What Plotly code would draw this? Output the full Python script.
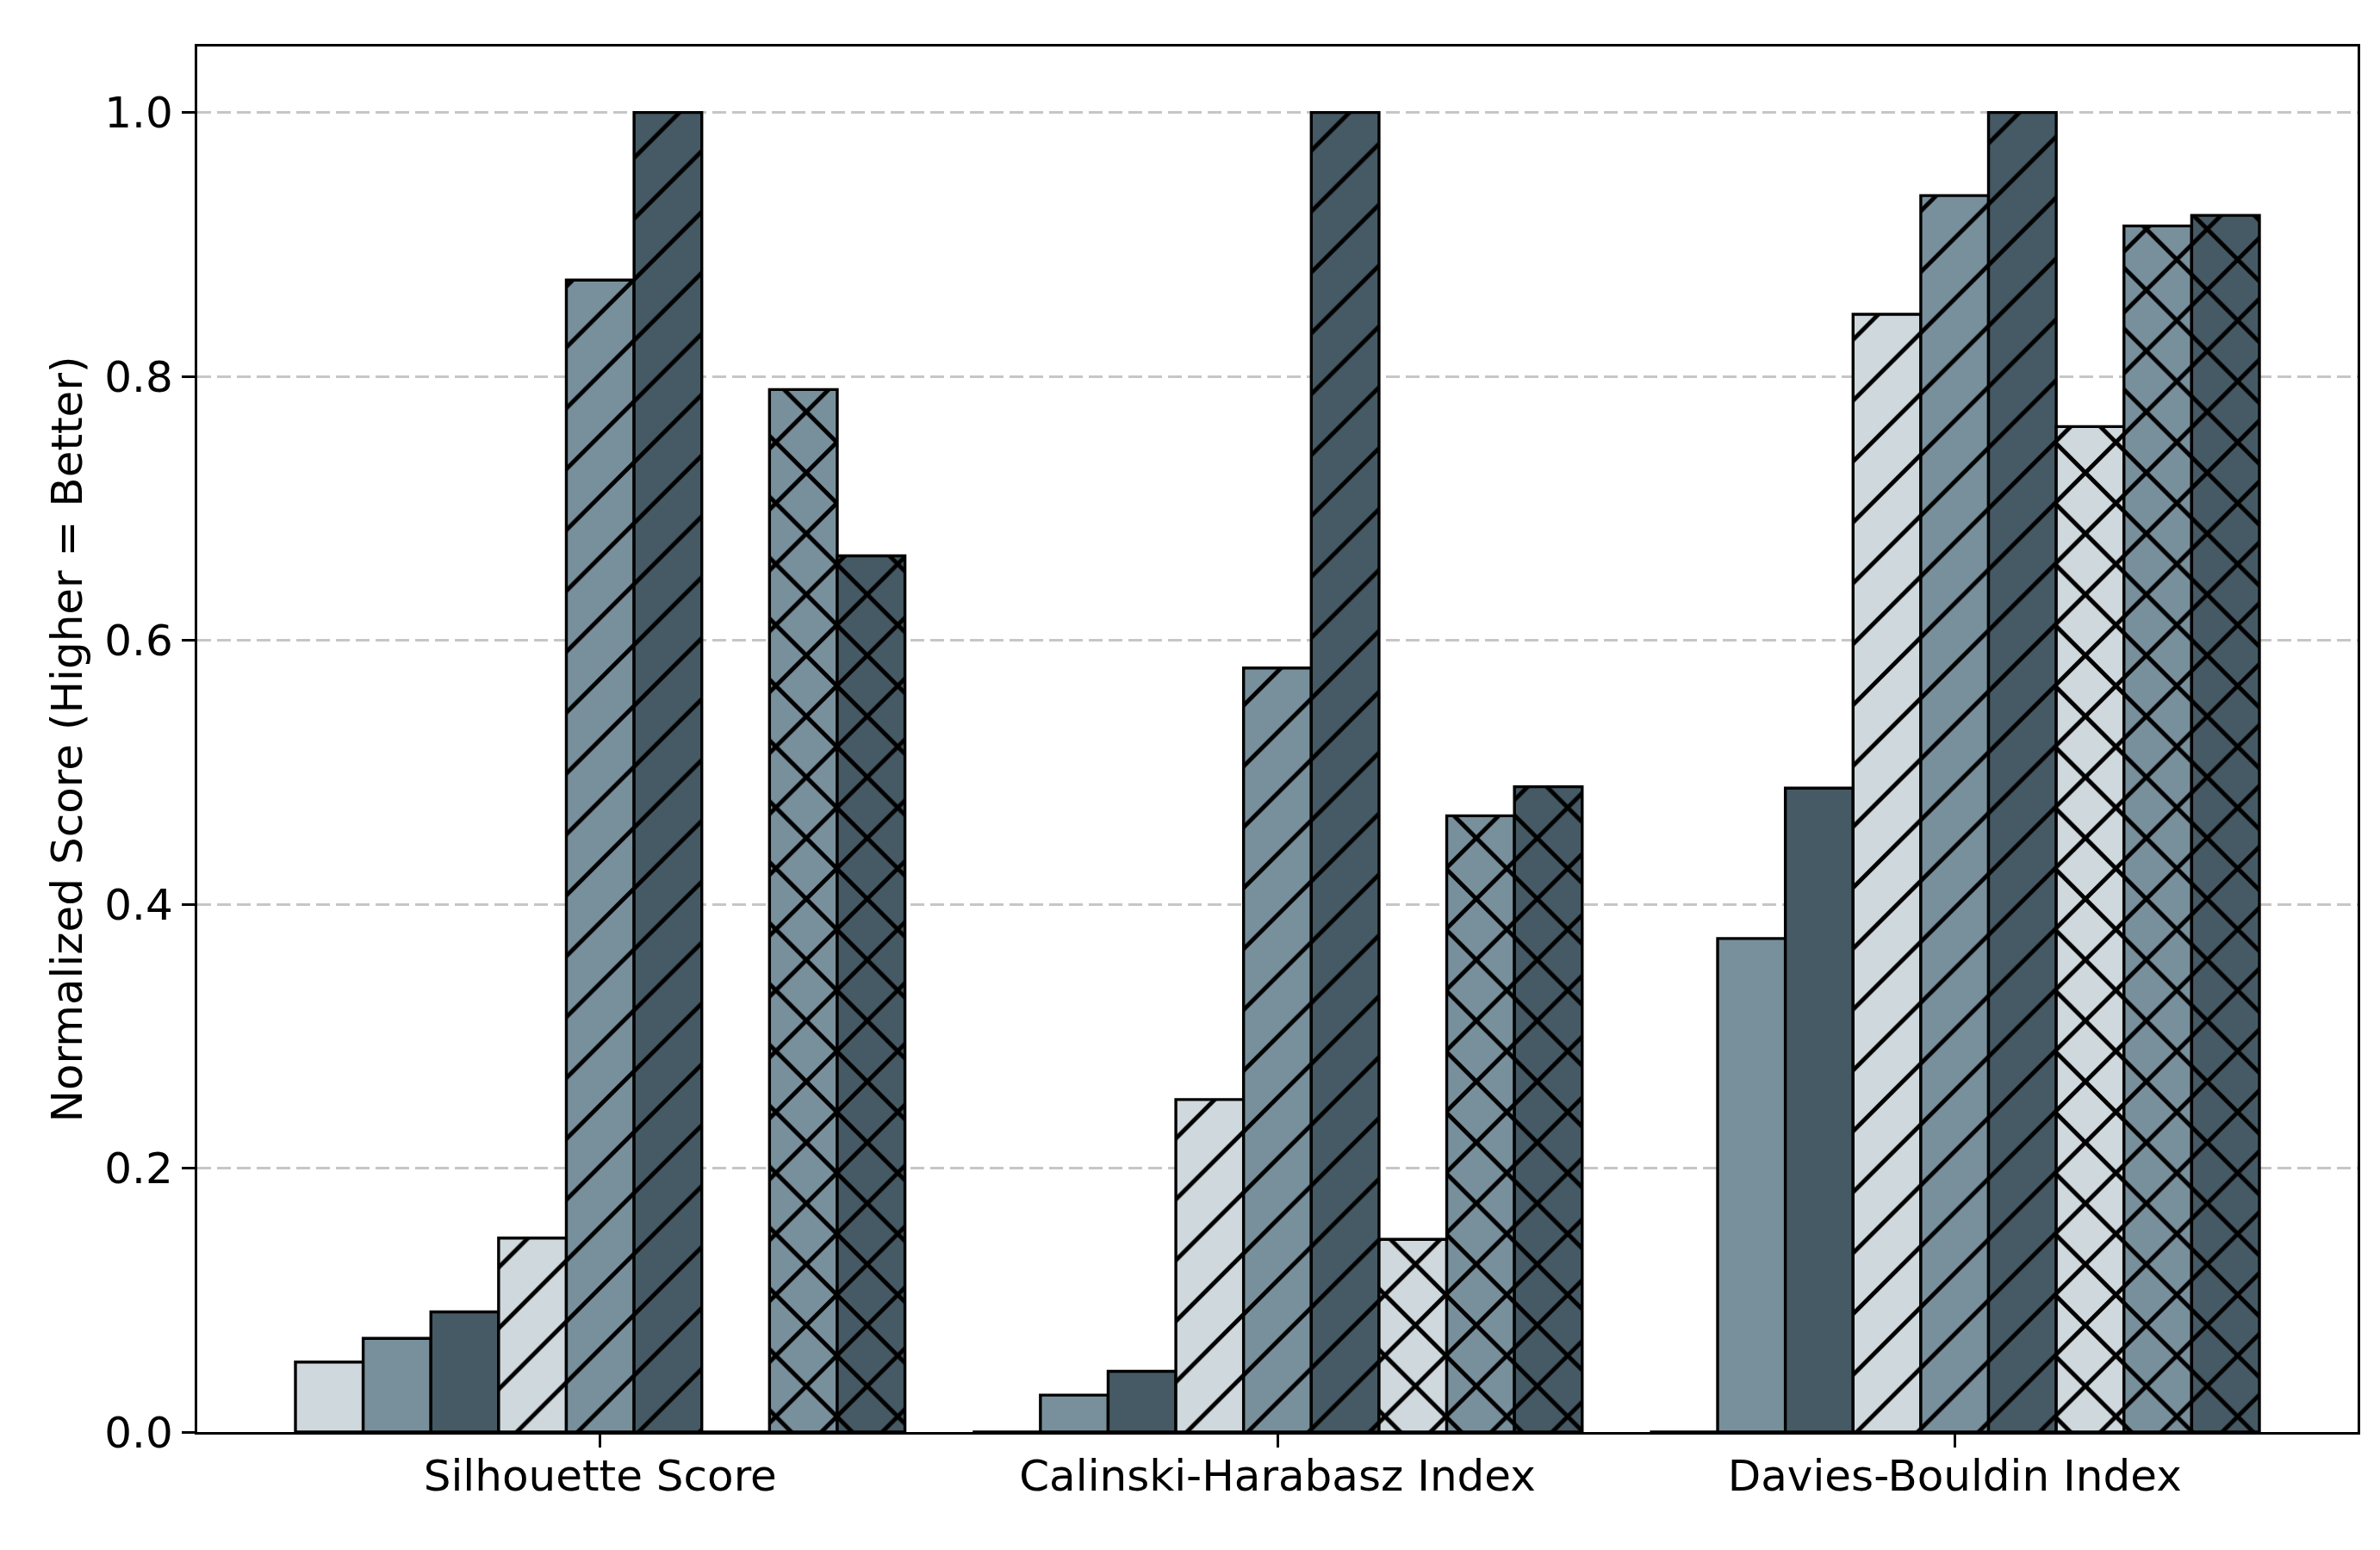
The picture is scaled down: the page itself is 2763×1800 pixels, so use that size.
import plotly.graph_objects as go

categories = ["Silhouette Score", "Calinski-Harabasz Index", "Davies-Bouldin Index"]

series_names = [
    "Variant 1 / plain", "Variant 2 / plain", "Variant 3 / plain",
    "Variant 1 / hatched", "Variant 2 / hatched", "Variant 3 / hatched",
    "Variant 1 / cross", "Variant 2 / cross", "Variant 3 / cross",
]

s1 = [0.053, 0.000, 0.000]
s2 = [0.071, 0.028, 0.374]
s3 = [0.091, 0.046, 0.488]
s4 = [0.147, 0.252, 0.847]
s5 = [0.873, 0.579, 0.937]
s6 = [1.000, 1.000, 1.000]
s7 = [0.000, 0.146, 0.762]
s8 = [0.790, 0.467, 0.914]
s9 = [0.664, 0.489, 0.922]
series_values = [s1, s2, s3, s4, s5, s6, s7, s8, s9]

colors = ["#cfd8dc", "#78909c", "#455a64"] * 3
hatches = ["", "", "", "/", "/", "/", "x", "x", "x"]
solidities = {"": 0.2, "/": 0.1, "x": 0.19}

yticks = [0.0, 0.2, 0.4, 0.6, 0.8, 1.0]
ytick_text = ["0.0", "0.2", "0.4", "0.6", "0.8", "1.0"]

FONT = "DejaVu Sans"
FS = 50
OFF = 8  # default page body margin

fig = go.Figure()
for name, vals, col, h in zip(series_names, series_values, colors, hatches):
    pattern = dict(shape=h, fillmode="replace", bgcolor=col, fgcolor="black",
                   fgopacity=1, size=50, solidity=solidities[h])
    fig.add_trace(go.Bar(
        x=categories, y=vals, name=name,
        marker=dict(color=col, line=dict(color="black", width=3.4), pattern=pattern),
    ))

fig.update_layout(
    width=2763 - 2 * OFF, height=1800 - 2 * OFF,
    paper_bgcolor="white", plot_bgcolor="white",
    margin=dict(l=229 - OFF, r=26 - OFF, t=54 - OFF, b=137 - OFF, autoexpand=False),
    barmode="group", bargap=0.1, bargroupgap=0,
    showlegend=False,
    font=dict(family=FONT, size=FS, color="black"),
)
fig.update_xaxes(
    type="category", range=[-0.595, 2.595],
    showline=True, linecolor="black", linewidth=3.3, mirror=True,
    ticks="outside", ticklen=15, tickwidth=3.3, tickcolor="black",
    ticklabelstandoff=-10,
    showgrid=False, zeroline=False,
    tickfont=dict(family=FONT, size=FS, color="black"),
)
fig.update_yaxes(
    range=[0, 1.05], tickvals=yticks, ticktext=ytick_text,
    showline=True, linecolor="black", linewidth=3.3, mirror=True,
    ticks="outside", ticklen=15, tickwidth=3.3, tickcolor="black",
    showgrid=True, gridcolor="#c6c6c6", gridwidth=3, griddash="16px,7px",
    zeroline=False,
    tickfont=dict(family=FONT, size=FS, color="black"),
    title=dict(text="Normalized Score (Higher = Better)", standoff=10,
               font=dict(family=FONT, size=FS, color="black")),
)

fig.write_html("out.html")
